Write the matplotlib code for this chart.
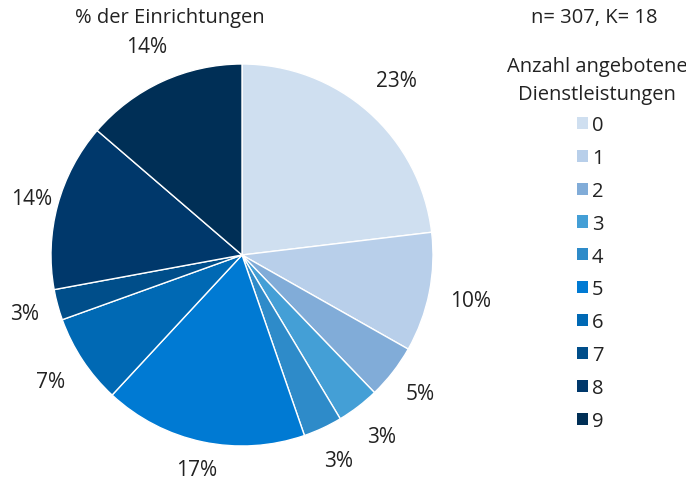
import numpy as np
import matplotlib.pyplot as plt
from matplotlib.patches import Patch

plt.rcParams['font.family'] = ['Open Sans', 'DejaVu Sans']

categories = ['0', '1', '2', '3', '4', '5', '6', '7', '8', '9']
shares = [23.1, 10.1, 4.6, 3.6, 3.3, 17.2, 7.6, 2.6, 14.2, 13.7]
labels = ['23%', '10%', '5%', '3%', '3%', '17%', '7%', '3%', '14%', '14%']
colors = ['#cfdff0', '#b8cfea', '#81acd8', '#449fd6', '#2e8bc9',
          '#007ad3', '#0069b4', '#004e8a', '#00386b', '#002f56']
# distance of each percentage label from the centre (in radii)
label_dist = [1.22, 1.22, 1.18, 1.20, 1.19, 1.15, 1.20, 1.18, 1.14, 1.20]

fig = plt.figure(figsize=(6.86, 4.81), dpi=100)
ax = fig.add_axes([51 / 686, 34 / 481, 382 / 686, 382 / 481])

wedges, _ = ax.pie(shares, colors=colors, startangle=90, counterclock=False,
                   wedgeprops=dict(edgecolor='white', linewidth=1))
for w, lab, d in zip(wedges, labels, label_dist):
    ang = np.deg2rad((w.theta1 + w.theta2) / 2)
    ax.text(d * np.cos(ang), d * np.sin(ang), lab, fontsize=15,
            color='#222222', ha='center', va='center')
ax.set_xlim(-1, 1)
ax.set_ylim(-1, 1)
ax.set_aspect('equal')
ax.axis('off')

fig.text(75 / 686, 1 - 18 / 481, '% der Einrichtungen', fontsize=14.5,
         color='#222222', va='center', ha='left')
fig.text(594 / 686, 1 - 18 / 481, 'n= 307, K= 18', fontsize=14.5,
         color='#222222', va='center', ha='center')
fig.text(597 / 686, 1 - 81 / 481, 'Anzahl angebotene\nDienstleistungen',
         fontsize=14.5, color='#222222', va='center', ha='center',
         multialignment='center', linespacing=1.55)

handles = [Patch(facecolor=c, edgecolor='none') for c in colors]
leg = fig.legend(handles, categories, loc='upper left',
                 bbox_to_anchor=(577 / 686, 1 - 116 / 481),
                 frameon=False, fontsize=14.5,
                 handlelength=0.55, handleheight=0.55, handletextpad=0.2,
                 labelspacing=0.64, borderpad=0, borderaxespad=0)
for t in leg.get_texts():
    t.set_color('#222222')

fig.savefig('out.png', dpi=100)
